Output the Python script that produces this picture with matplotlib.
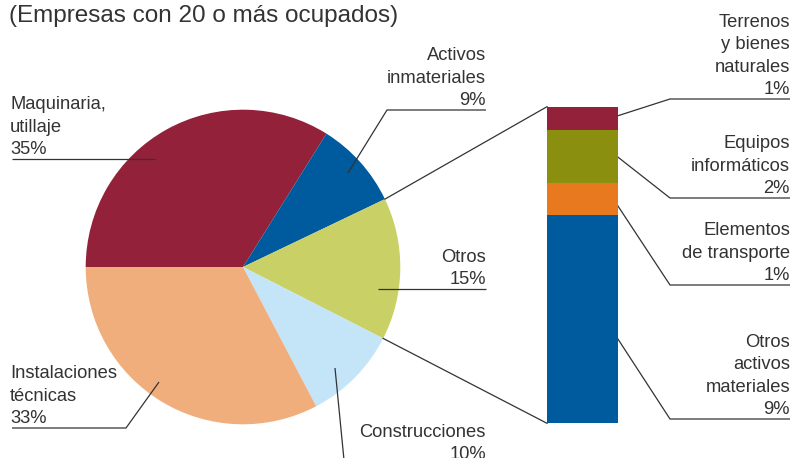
import numpy as np
import matplotlib
matplotlib.use("Agg")
import matplotlib.pyplot as plt

plt.rcParams['font.family'] = ['Liberation Sans', 'DejaVu Sans']

W, H = 807, 458
TXT = '#333333'

# pie: share of investment
pie_names = ["Maquinaria,\nutillaje", "Activos\ninmateriales", "Otros",
             "Construcciones", "Instalaciones\ntécnicas"]
pie_values = [33.9, 9.0, 14.6, 9.8, 32.7]
pie_labels = ["35%", "9%", "15%", "10%", "33%"]
pie_colors = ['#93213a', '#005a9e', '#c9d166', '#c4e4f8', '#f0ae7c']

# breakdown of "Otros" (stacked bar, top to bottom)
bar_names = ["Terrenos\ny bienes\nnaturales", "Equipos\ninformáticos",
             "Elementos\nde transporte", "Otros\nactivos\nmateriales"]
bar_values = [1.1, 2.5, 1.5, 9.8]
bar_labels = ["1%", "2%", "1%", "9%"]
bar_colors = ['#93213a', '#8a8f10', '#e8791e', '#005a9e']

fig = plt.figure(figsize=(W / 100, H / 100), dpi=100)
ax = fig.add_axes([0, 0, 1, 1])

cx, cy, r = 243, 267, 157.3
wedges, _ = ax.pie(pie_values, colors=pie_colors, startangle=180,
                   counterclock=True, center=(cx, cy), radius=r,
                   wedgeprops=dict(linewidth=0))
ax.set_xlim(0, W)
ax.set_ylim(H, 0)
ax.set_aspect('auto')
ax.axis('off')

# stacked bar in its own axes
bx0, by0, bw, bh = 547, 106.7, 71, 316.6
bax = fig.add_axes([bx0 / W, (H - by0 - bh) / H, bw / W, bh / H])
bottoms = np.concatenate([[0], np.cumsum(bar_values)[:-1]])
bax.bar(0, bar_values, bottom=bottoms, width=1, color=bar_colors, linewidth=0)
bax.set_xlim(-0.5, 0.5)
bax.set_ylim(sum(bar_values), 0)
bax.axis('off')

# connector lines from "Otros" slice to the bar
w = wedges[2]
for th, yb in [(w.theta1, by0), (w.theta2, by0 + bh)]:
    px = cx + r * np.cos(np.radians(th))
    py = cy + r * np.sin(np.radians(th))
    ax.plot([px, bx0], [py, yb], color=TXT, lw=0.9)

ax.text(9, 22, "(Empresas con 20 o más ocupados)", fontsize=17.5,
        color=TXT, ha='left', va='baseline')

fs = 13.2
ls = 1.42

def label(x, y, s, ha, pts):
    ax.text(x, y - 1, s, fontsize=fs, color=TXT, ha=ha, va='bottom',
            linespacing=ls)
    xs, ys = zip(*pts)
    ax.plot(xs, ys, color=TXT, lw=0.9, solid_capstyle='butt')

label(10, 159, pie_names[0] + "\n" + pie_labels[0], 'left', [(12, 159), (155, 159)])
label(486, 110, pie_names[1] + "\n" + pie_labels[1], 'right',
      [(486, 110), (387, 110), (348, 173)])
label(486, 289, pie_names[2] + "\n" + pie_labels[2], 'right', [(486, 289), (378, 289)])
label(486, 464, pie_names[3] + "\n" + pie_labels[3], 'right', [(335, 368), (344, 460)])
label(10, 428, pie_names[4] + "\n" + pie_labels[4], 'left',
      [(12, 428), (126, 428), (159, 382)])

bar_lines = [(99, 117), (198, 154), (285, 200), (419, 333)]
for name, lab, (yu, yt) in zip(bar_names, bar_labels, bar_lines):
    label(790, yu, name + "\n" + lab, 'right', [(790, yu), (670, yu), (614, yt)])

fig.savefig("out.png", dpi=100)
